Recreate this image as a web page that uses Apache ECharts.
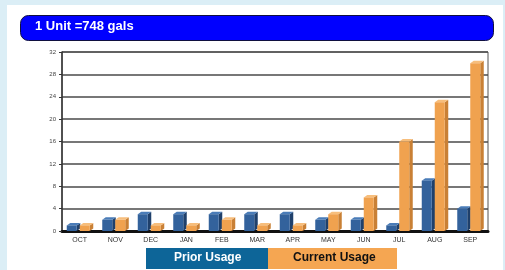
<!DOCTYPE html>
<html>
<head>
<meta charset="utf-8">
<script src="https://cdn.jsdelivr.net/npm/echarts@6/dist/echarts.min.js"></script>
<style>
  html, body { margin: 0; padding: 0; background: #dbeef6; }
  #chart { width: 505px; height: 270px; }
</style>
</head>
<body>
<div id="chart"></div>
<script>
document.addEventListener('DOMContentLoaded', function () {
    var chartDom = document.getElementById('chart');
    var myChart = echarts.init(chartDom);

    const months = ['OCT', 'NOV', 'DEC', 'JAN', 'FEB', 'MAR', 'APR', 'MAY', 'JUN', 'JUL', 'AUG', 'SEP'];
    const priorUsage = [1, 2, 3, 3, 3, 3, 3, 2, 2, 1, 9, 4];
    const currentUsage = [1, 2, 1, 1, 2, 1, 1, 3, 6, 16, 23, 30];

    // colours: front, side, top
    const blueFaces = ['#33629c', '#1f406b', '#4a7cb8'];
    const orangeFaces = ['#f0a24f', '#c98035', '#f7be7c'];

    function bar3d(offset, faces) {
        return function (params, api) {
            var idx = api.value(0);
            var base = api.coord([idx, 0]);
            var top = api.coord([idx, api.value(1)]);
            var w = 10, dx = 3.5, dy = 2.5;
            var x0 = base[0] + offset;
            var x1 = x0 + w;
            var yb = base[1];
            var yt = top[1];
            return {
                type: 'group',
                children: [
                    {
                        type: 'polygon',
                        shape: { points: [[x1, yb], [x1 + dx, yb - dy], [x1 + dx, yt - dy], [x1, yt]] },
                        style: { fill: faces[1] }
                    },
                    {
                        type: 'polygon',
                        shape: { points: [[x0, yt], [x0 + dx, yt - dy], [x1 + dx, yt - dy], [x1, yt]] },
                        style: { fill: faces[2] }
                    },
                    {
                        type: 'rect',
                        shape: { x: x0, y: yt, width: w, height: yb - yt },
                        style: { fill: faces[0] }
                    }
                ]
            };
        };
    }

    var option = {
        backgroundColor: '#dbeef6',
        animation: false,
        graphic: [
            { type: 'rect', left: 7, top: 5, shape: { width: 496, height: 265 }, style: { fill: '#ffffff' }, z: -10 },
            { type: 'rect', left: 20, top: 15, shape: { width: 473, height: 25, r: 8 },
              style: { fill: '#0000ff', stroke: '#101040', lineWidth: 1 } },
            { type: 'text', left: 35, top: 20, style: { text: '1 Unit =748 gals', fill: '#ffffff',
              font: 'bold 13px "Liberation Sans", Arial, sans-serif' } },
            { type: 'rect', left: 146, top: 248, shape: { width: 122, height: 21 }, style: { fill: '#0d6598' } },
            { type: 'text', left: 174, top: 252, style: { text: 'Prior Usage', fill: '#ffffff',
              font: 'bold 12px "Liberation Sans", Arial, sans-serif' } },
            { type: 'rect', left: 268, top: 248, shape: { width: 129, height: 21 }, style: { fill: '#f5a652' } },
            { type: 'text', left: 293, top: 252, style: { text: 'Current Usage', fill: '#111111',
              font: 'bold 12px "Liberation Sans", Arial, sans-serif' } }
        ],
        grid: { left: 62, right: 17, top: 52, bottom: 39, show: true, borderColor: '#555', borderWidth: 1 },
        xAxis: {
            type: 'category',
            data: months,
            axisLine: { lineStyle: { color: '#111', width: 3 } },
            axisTick: { show: false },
            axisLabel: { color: '#333', fontSize: 7, margin: 6, fontFamily: 'Liberation Sans' }
        },
        yAxis: {
            type: 'value',
            min: 0,
            max: 32,
            interval: 4,
            axisLine: { show: true, lineStyle: { color: '#333', width: 1.5 } },
            axisTick: { show: true, length: 3, lineStyle: { color: '#333' } },
            axisLabel: { color: '#444', fontSize: 6, margin: 6, fontFamily: 'Liberation Sans' },
            splitLine: { lineStyle: { color: '#4a4a4a', width: 1.5 } }
        },
        series: [
            {
                name: 'Prior Usage',
                type: 'custom',
                renderItem: bar3d(-13, blueFaces),
                data: priorUsage.map(function (v, i) { return [i, v]; }),
                z: 3
            },
            {
                name: 'Current Usage',
                type: 'custom',
                renderItem: bar3d(0, orangeFaces),
                data: currentUsage.map(function (v, i) { return [i, v]; }),
                z: 4
            }
        ]
    };

    option && myChart.setOption(option);

    window.addEventListener('resize', function () {
        myChart.resize();
    });
});
</script>
</body>
</html>
